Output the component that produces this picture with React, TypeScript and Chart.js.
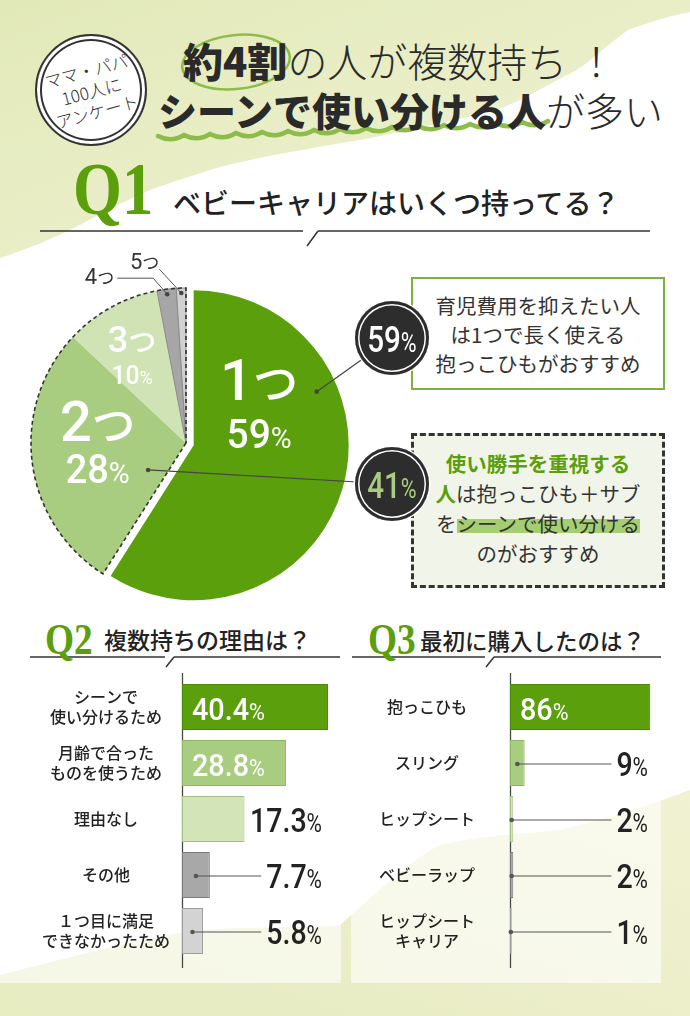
import React, { useEffect, useRef } from 'react';
import { Chart, registerables } from 'chart.js';

Chart.register(...registerables);

// ---------------- data ----------------
const q1Labels = ['1つ', '2つ', '3つ', '4つ', '5つ'];
const q1Values = [59, 28, 10, 2, 1];
const q1Colors = ['#5b9f0c', '#a9cd80', '#d0e3b5', '#a6a6a6', '#d1d1d1'];

const q2Labels = [
  ['シーンで', '使い分けるため'],
  ['月齢で合った', 'ものを使うため'],
  ['理由なし'],
  ['その他'],
  ['１つ目に満足', 'できなかったため'],
];
const q2Values = [40.4, 28.8, 17.3, 7.7, 5.8];

const q3Labels = [['抱っこひも'], ['スリング'], ['ヒップシート'], ['ベビーラップ'], ['ヒップシート', 'キャリア']];
const q3Values = [86, 9, 2, 2, 1];

const barColors = ['#5b9f0c', '#a9cd80', '#d2e4b8', '#a8a8a8', '#d3d3d3'];
const barBorders = ['#4b8a06', '#8db660', '#a6c286', '#7c7c7c', '#9c9c9c'];

// ---------------- style constants ----------------
const JP = '"Noto Sans CJK JP", "Noto Sans", sans-serif';
const NUM = 'Roboto, "Noto Sans CJK JP", sans-serif';
const SERIF = '"Liberation Serif", "DejaVu Serif", serif';
const GREEN = '#5b9f0c';
const EXPLODE = 8;
const PIE_TOP = 240;
const CALLOUT_R = 37;
const callout59 = { x: 392, y: 338 };
const callout41 = { x: 392, y: 484 };
const pieLabelAnchors = [[0.28, 0.49], [0.56, 0.57], [0.41, 0.655]];
const pieLabelSizes = [[58, 41, 30], [56, 40, 30], [36, 26, 19]];
const pieLabelGap = [27, 24, 17.5];

Chart.defaults.font.family = JP;

type Part = { t: string; size: number; weight?: number; fam?: string };
const fontOf = (p: Part) => `${p.weight ?? 500} ${p.size}px ${p.fam ?? NUM}`;

function partsWidth(ctx: CanvasRenderingContext2D, parts: Part[], sx: number) {
  let w = 0;
  parts.forEach((p) => {
    ctx.font = fontOf(p);
    w += ctx.measureText(p.t).width * sx;
  });
  return w;
}

function drawParts(ctx: CanvasRenderingContext2D, parts: Part[], x: number, cy: number, align: string, color: string, sx: number) {
  const w = partsWidth(ctx, parts, sx);
  let cur = align === 'left' ? x : align === 'right' ? x - w : x - w / 2;
  const left = cur;
  const base = cy + parts[0].size * 0.355;
  ctx.save();
  ctx.fillStyle = color;
  ctx.textAlign = 'left';
  ctx.textBaseline = 'alphabetic';
  parts.forEach((p) => {
    ctx.font = fontOf(p);
    const pw = ctx.measureText(p.t).width;
    ctx.save();
    ctx.translate(cur, base);
    ctx.scale(sx, 1);
    ctx.fillText(p.t, 0, 0);
    ctx.restore();
    cur += pw * sx;
  });
  ctx.restore();
  return { left, right: left + w };
}

function splitNum(s: string) {
  const m = s.match(/^([\d.]+)(.*)$/);
  return m ? [m[1], m[2]] : [s, ''];
}

function ptAt(el: any, frac: number, rFrac: number) {
  const a = el.startAngle + (el.endAngle - el.startAngle) * frac;
  const r = el.outerRadius * rFrac;
  return { x: el.x + Math.cos(a) * r, y: el.y + Math.sin(a) * r };
}

function dot(ctx: CanvasRenderingContext2D, x: number, y: number) {
  ctx.beginPath();
  ctx.arc(x, y, 2.3, 0, Math.PI * 2);
  ctx.fill();
}

// ---------------- pie ----------------
const piePlugin = {
  id: 'q1deco',
  afterDatasetsUpdate(chart: any) {
    const arcs = chart.getDatasetMeta(0).data;
    const a = arcs[0];
    const mid = (a.startAngle + a.endAngle) / 2;
    a.x += Math.cos(mid) * EXPLODE;
    a.y += Math.sin(mid) * EXPLODE;
  },
  afterDatasetsDraw(chart: any) {
    const ctx: CanvasRenderingContext2D = chart.ctx;
    const arcs = chart.getDatasetMeta(0).data;
    // dashed outline around the "複数" group
    const e1 = arcs[1];
    const eN = arcs[arcs.length - 1];
    ctx.save();
    ctx.beginPath();
    ctx.moveTo(e1.x, e1.y);
    ctx.arc(e1.x, e1.y, e1.outerRadius, e1.startAngle, eN.endAngle);
    ctx.closePath();
    ctx.setLineDash([4, 3]);
    ctx.lineWidth = 1.6;
    ctx.strokeStyle = '#333';
    ctx.stroke();
    ctx.restore();

    // inner labels
    for (let i = 0; i < 3; i++) {
      const p = ptAt(arcs[i], pieLabelAnchors[i][0], pieLabelAnchors[i][1]);
      const [d, rest] = splitNum(q1Labels[i]);
      const [s1, s2, s3] = pieLabelSizes[i];
      const g = pieLabelGap[i];
      drawParts(ctx, [{ t: d, size: s1 }, { t: rest, size: s1 * 0.78, fam: JP }], p.x, p.y - g, 'center', '#fff', 1);
      drawParts(ctx, [{ t: String(q1Values[i]), size: s2 }, { t: '%', size: s3, weight: 400 }], p.x, p.y + g, 'center', '#fff', 0.95);
    }

    // small outside labels (4つ, 5つ)
    ctx.save();
    ctx.strokeStyle = '#555';
    ctx.fillStyle = '#444';
    ctx.lineWidth = 1;
    const d4 = ptAt(arcs[3], 0.5, (arcs[3].outerRadius - 5) / arcs[3].outerRadius);
    const el4 = { x: d4.x - 14, y: d4.y - 16 };
    const end4 = { x: el4.x - 36, y: el4.y };
    ctx.beginPath();
    ctx.moveTo(d4.x, d4.y);
    ctx.lineTo(el4.x, el4.y);
    ctx.lineTo(end4.x, end4.y);
    ctx.stroke();
    dot(ctx, d4.x, d4.y);
    const d5 = ptAt(arcs[4], 0.5, (arcs[4].outerRadius - 5) / arcs[4].outerRadius);
    const el5 = { x: d5.x - 22, y: d5.y - 24 };
    ctx.beginPath();
    ctx.moveTo(d5.x, d5.y);
    ctx.lineTo(el5.x, el5.y);
    ctx.stroke();
    dot(ctx, d5.x, d5.y);
    ctx.restore();
    const [n4, r4] = splitNum(q1Labels[3]);
    const [n5, r5] = splitNum(q1Labels[4]);
    drawParts(ctx, [{ t: n4, size: 22, weight: 400 }, { t: r4, size: 17, weight: 400, fam: JP }], end4.x - 3, end4.y - 2, 'right', '#333', 1);
    drawParts(ctx, [{ t: n5, size: 22, weight: 400 }, { t: r5, size: 17, weight: 400, fam: JP }], el5.x, el5.y - 8, 'right', '#333', 1);

    // leaders to callouts
    ctx.save();
    ctx.strokeStyle = '#444';
    ctx.fillStyle = '#444';
    ctx.lineWidth = 1.2;
    const s1 = ptAt(arcs[0], 0.313, 0.866);
    const s2 = ptAt(arcs[1], 0.22, 0.3);
    ctx.beginPath();
    ctx.moveTo(s1.x, s1.y);
    ctx.lineTo(callout59.x, callout59.y - PIE_TOP);
    ctx.moveTo(s2.x, s2.y);
    ctx.lineTo(callout41.x, callout41.y - PIE_TOP);
    ctx.stroke();
    dot(ctx, s1.x, s1.y);
    dot(ctx, s2.x, s2.y);
    ctx.restore();
  },
};

function pieConfig(): any {
  return {
    type: 'pie',
    data: {
      labels: q1Labels,
      datasets: [
        {
          data: q1Values,
          backgroundColor: q1Colors,
          borderColor: ['#fff', '#fff', '#fff', '#8a8a8a', '#8a8a8a'],
          borderWidth: [0, 0, 0, 1, 1],
          radius: 155,
        },
      ],
    },
    options: {
      animation: false,
      responsive: true,
      maintainAspectRatio: false,
      events: [],
      layout: { padding: { left: 0, top: 0, bottom: 0, right: 318 } },
      plugins: { legend: { display: false }, tooltip: { enabled: false } },
    },
    plugins: [piePlugin],
  };
}

// ---------------- bars ----------------
function barPlugin(values: number[], inset: number) {
  return {
    id: 'barDeco',
    beforeDatasetsDraw(chart: any) {
      const { ctx, chartArea: a } = chart;
      ctx.save();
      ctx.strokeStyle = '#4a4a4a';
      ctx.lineWidth = 1.3;
      ctx.beginPath();
      ctx.moveTo(a.left + 0.5, a.top - 6);
      ctx.lineTo(a.left + 0.5, a.bottom + 9);
      ctx.stroke();
      ctx.restore();
    },
    afterDatasetsDraw(chart: any) {
      const { ctx, chartArea: a } = chart;
      chart.getDatasetMeta(0).data.forEach((bar: any, i: number) => {
        const num = String(values[i]);
        const partsIn: Part[] = [{ t: num, size: 32 }, { t: '%', size: 24, weight: 400 }];
        const partsOut: Part[] = [{ t: num, size: 34 }, { t: '%', size: 25, weight: 400 }];
        const end = bar.x;
        const base = bar.base;
        const cy = bar.y;
        const inW = partsWidth(ctx, partsIn, 0.9);
        if (end - base > inW + 16) {
          drawParts(ctx, partsIn, base + 10, cy + 2, 'left', '#fff', 0.9);
        } else {
          const r = drawParts(ctx, partsOut, a.right - inset, cy + 1, 'right', '#222', 0.84);
          if (r.left - end > 25) {
            const dx = (base + end) / 2;
            ctx.save();
            ctx.strokeStyle = '#555';
            ctx.fillStyle = '#555';
            ctx.lineWidth = 1;
            ctx.beginPath();
            ctx.moveTo(dx, cy + 1);
            ctx.lineTo(r.left - 5, cy + 1);
            ctx.stroke();
            dot(ctx, dx, cy + 1);
            ctx.restore();
          }
        }
      });
    },
  };
}

function barConfig(labels: string[][], values: number[], o: any): any {
  return {
    type: 'bar',
    data: {
      labels,
      datasets: [
        {
          data: values,
          backgroundColor: barColors,
          borderColor: barBorders,
          borderWidth: 1,
          borderSkipped: false,
          categoryPercentage: 1,
          barPercentage: 0.82,
        },
      ],
    },
    options: {
      indexAxis: 'y',
      animation: false,
      responsive: true,
      maintainAspectRatio: false,
      events: [],
      layout: { padding: { top: 9, bottom: 11, left: 0, right: o.padRight } },
      plugins: { legend: { display: false }, tooltip: { enabled: false } },
      scales: {
        x: { display: false, min: 0, max: o.max },
        y: {
          grid: { display: false, drawTicks: false },
          border: { display: false },
          ticks: {
            padding: o.tickPad,
            crossAlign: 'center',
            color: '#222',
            font: { family: JP, size: 16, weight: '500', lineHeight: 1.3 },
          },
          afterFit: (s: any) => {
            s.width = o.axisW;
            s.paddingTop = 0;
            s.paddingBottom = 0;
          },
        },
      },
    },
    plugins: [barPlugin(values, o.inset)],
  };
}

// ---------------- components ----------------
function ChartBox({ left, top, width, height, make }: any) {
  const ref = useRef<HTMLCanvasElement>(null);
  useEffect(() => {
    const chart = new Chart(ref.current as HTMLCanvasElement, make());
    return () => chart.destroy();
  }, []);
  return (
    <div style={{ position: 'absolute', left, top, width, height }}>
      <canvas ref={ref} />
    </div>
  );
}

function Callout({ c, value, color }: any) {
  return (
    <div
      style={{
        position: 'absolute',
        left: c.x - CALLOUT_R,
        top: c.y - CALLOUT_R,
        width: CALLOUT_R * 2,
        height: CALLOUT_R * 2,
        borderRadius: '50%',
        background: '#2d2d2d',
        boxShadow: 'inset 0 0 0 3px #2d2d2d, inset 0 0 0 4.5px #fff, 0 0 0 1.5px #fff',
        display: 'flex',
        alignItems: 'center',
        justifyContent: 'center',
        color,
        fontFamily: NUM,
        fontWeight: 500,
        whiteSpace: 'nowrap',
      }}
    >
      <span style={{ display: 'inline-block', transform: 'scaleX(0.8)', lineHeight: 1, marginTop: 2 }}>
        <span style={{ fontSize: 37 }}>{value}</span>
        <span style={{ fontSize: 27, fontWeight: 400 }}>%</span>
      </span>
    </div>
  );
}

function wave(x0: number, x1: number, y: number) {
  let d = `M${x0},${y}`;
  for (let x = x0; x < x1; x += 26) d += ' q13,7 26,-1';
  return d;
}

export default function App() {
  const single = q1Values[0];
  const multiple = q1Values.slice(1).reduce((a, b) => a + b, 0);
  const hl = 'linear-gradient(to bottom, transparent 38%, rgba(146,196,84,0.8) 38%, rgba(146,196,84,0.8) 82%, transparent 82%)';
  return (
    <div
      style={{
        position: 'absolute',
        left: 0,
        top: 0,
        width: 690,
        height: 1016,
        overflow: 'hidden',
        background: '#fff',
        fontFamily: JP,
        color: '#222',
      }}
    >
      <svg width={690} height={1016} style={{ position: 'absolute', left: 0, top: 0 }}>
        <defs>
          <linearGradient id="pale" x1="0" y1="0" x2="1" y2="1">
            <stop offset="0" stopColor="#e2e9b8" />
            <stop offset="1" stopColor="#f1f3d6" />
          </linearGradient>
          <linearGradient id="pale2" x1="0" y1="1" x2="1" y2="0">
            <stop offset="0" stopColor="#e6ebc0" />
            <stop offset="1" stopColor="#f1f2d2" />
          </linearGradient>
        </defs>
        <path
          d="M0,0 H690 V12 C660,18 640,26 628,30 C600,50 585,68 565,76 C535,92 515,104 495,110 C450,122 400,132 360,140 C300,150 255,158 220,167 C190,176 170,183 150,190 C120,203 100,214 80,225 C50,240 25,250 0,258 Z"
          fill="url(#pale)"
        />
        <path
          d="M0,975 C60,960 140,938 200,930 C260,926 320,928 340,925 C380,890 410,860 440,845 C480,836 520,834 560,830 C610,818 650,805 690,790 V1016 H0 Z"
          fill="url(#pale2)"
        />
        <rect x={0} y={600} width={341} height={383} fill="rgba(255,255,255,0.6)" />
        <rect x={351} y={600} width={310} height={383} fill="rgba(255,255,255,0.6)" />
        {/* title decorations */}
        <ellipse cx={236} cy={62} rx={54} ry={27} transform="rotate(-6 236 62)" fill="none" stroke="#8cbd4b" strokeWidth={2.5} />
        <path d={wave(158, 545, 136)} fill="none" stroke="#8cbd4b" strokeWidth={4.5} strokeLinecap="round" />
        {/* header rules */}
        <g stroke="#333" strokeWidth={1.5} fill="none">
          <path d="M40,231 H303 M318,231 L307,246 M318,231 H650" />
          <path d="M30,657 H165 M174,657 L166,667 M174,657 H340" />
          <path d="M352,657 H485 M494,657 L486,667 M494,657 H661" />
        </g>
      </svg>

      {/* badge */}
      <div
        style={{
          position: 'absolute',
          left: 35,
          top: 34,
          width: 112,
          height: 112,
          boxSizing: 'border-box',
          borderRadius: '50%',
          border: '2px solid #333',
          background: '#fff',
          boxShadow: 'inset 0 0 0 3px #fff, inset 0 0 0 5px #333',
          display: 'flex',
          alignItems: 'center',
          justifyContent: 'center',
        }}
      >
        <div style={{ transform: 'rotate(-15deg)', fontSize: 17, lineHeight: '21px', fontWeight: 300, textAlign: 'center', color: '#333', whiteSpace: 'nowrap' }}>
          ママ・パパ
          <br />
          100人に
          <br />
          アンケート
        </div>
      </div>

      {/* title */}
      <div style={{ position: 'absolute', left: 183, top: 40, fontSize: 40, lineHeight: 1, whiteSpace: 'nowrap', color: '#2a2a2a' }}>
        <span style={{ fontWeight: 900 }}>約4割</span>
        <span style={{ fontWeight: 300 }}>の人が複数持ち ！</span>
      </div>
      <div style={{ position: 'absolute', left: 158, top: 90, fontSize: 39, lineHeight: 1, whiteSpace: 'nowrap', color: '#2a2a2a' }}>
        <span style={{ fontWeight: 900 }}>シーンで使い分ける人</span>
        <span style={{ fontWeight: 300 }}>が多い</span>
      </div>

      {/* Q headers */}
      <div style={{ position: 'absolute', left: 73, top: 152, fontFamily: SERIF, fontWeight: 700, fontSize: 74, lineHeight: 1, color: GREEN, transform: 'scaleX(0.85)', transformOrigin: 'left top' }}>Q1</div>
      <div style={{ position: 'absolute', left: 173, top: 188, fontSize: 28, lineHeight: 1, fontWeight: 500, whiteSpace: 'nowrap' }}>ベビーキャリアはいくつ持ってる？</div>
      <div style={{ position: 'absolute', left: 45, top: 618, fontFamily: SERIF, fontWeight: 700, fontSize: 44, lineHeight: 1, color: GREEN, transform: 'scaleX(0.85)', transformOrigin: 'left top' }}>Q2</div>
      <div style={{ position: 'absolute', left: 104, top: 628, fontSize: 23, lineHeight: 1, fontWeight: 500, whiteSpace: 'nowrap' }}>複数持ちの理由は？</div>
      <div style={{ position: 'absolute', left: 368, top: 618, fontFamily: SERIF, fontWeight: 700, fontSize: 44, lineHeight: 1, color: GREEN, transform: 'scaleX(0.85)', transformOrigin: 'left top' }}>Q3</div>
      <div style={{ position: 'absolute', left: 420, top: 629, fontSize: 22.5, lineHeight: 1, fontWeight: 500, whiteSpace: 'nowrap' }}>最初に購入したのは？</div>

      {/* charts */}
      <ChartBox left={0} top={PIE_TOP} width={690} height={406} make={pieConfig} />
      <ChartBox left={0} top={670} width={345} height={300} make={() => barConfig(q2Labels, q2Values, { max: 44, axisW: 182, padRight: 4, tickPad: 12, inset: 19 })} />
      <ChartBox left={345} top={670} width={345} height={300} make={() => barConfig(q3Labels, q3Values, { max: 100, axisW: 165, padRight: 17, tickPad: 35, inset: 25 })} />

      {/* comment boxes */}
      <div
        style={{
          position: 'absolute',
          left: 411,
          top: 277,
          width: 254,
          height: 113,
          boxSizing: 'border-box',
          border: '2px solid #79b23e',
          background: '#fff',
          paddingTop: 12,
          textAlign: 'center',
          fontSize: 20.5,
          lineHeight: '29px',
          color: '#333',
          whiteSpace: 'nowrap',
        }}
      >
        育児費用を抑えたい人
        <br />
        は1つで長く使える
        <br />
        抱っこひもがおすすめ
      </div>
      <div
        style={{
          position: 'absolute',
          left: 411,
          top: 433,
          width: 254,
          height: 155,
          boxSizing: 'border-box',
          border: '3px dashed #333',
          background: '#f1f5e9',
          paddingTop: 12,
          textAlign: 'center',
          fontSize: 20.5,
          lineHeight: '30px',
          color: '#333',
          whiteSpace: 'nowrap',
        }}
      >
        <span style={{ color: GREEN, fontWeight: 700 }}>使い勝手を重視する</span>
        <br />
        <span style={{ color: GREEN, fontWeight: 700 }}>人</span>は抱っこひも＋サブ
        <br />
        を<span style={{ backgroundImage: hl }}>シーンで使い分ける</span>
        <br />
        のがおすすめ
      </div>

      <Callout c={callout59} value={single} color="#fff" />
      <Callout c={callout41} value={multiple} color="#a9cd80" />
    </div>
  );
}
